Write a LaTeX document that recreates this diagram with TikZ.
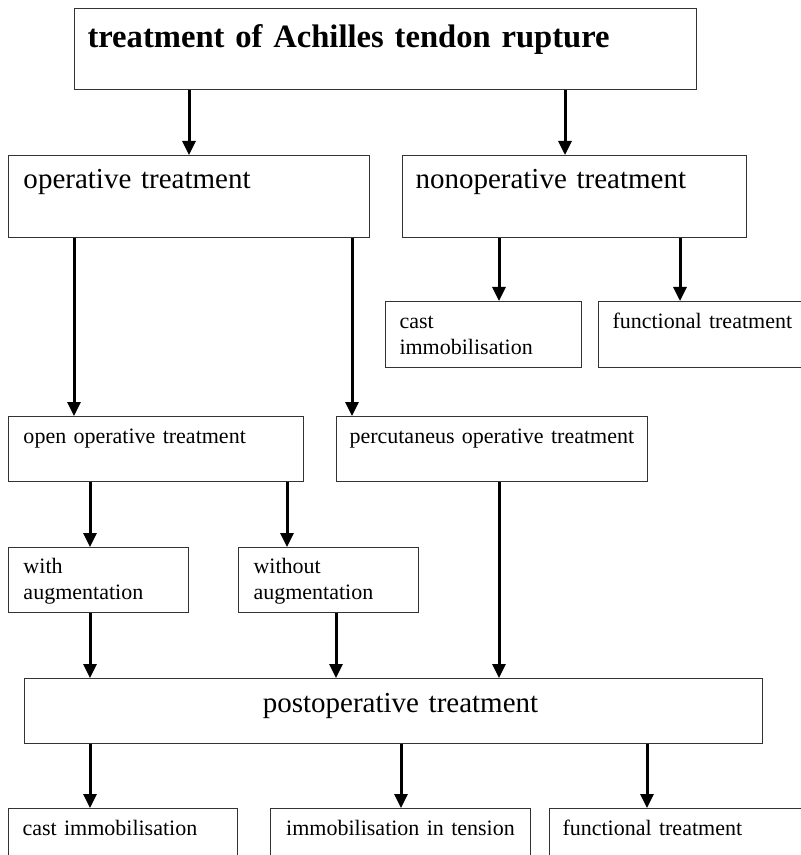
\documentclass[tikz,border=0pt]{standalone}
\usepackage{fontspec}
\setmainfont{Liberation Serif}
\usetikzlibrary{arrows.meta}

\begin{document}
\begin{tikzpicture}[x = 0.5pt, y = -0.5pt]
            \tikzstyle{box} = [draw=black!80, line width=0.5pt, anchor=north west, inner ysep=0pt, inner xsep=7pt, align=left, font=\fontsize{11}{13}\selectfont]
            \tikzstyle{mid} = [font=\fontsize{14.5}{17}\selectfont]
            \tikzstyle{link} = [-{Triangle[width=6.5pt, length=7pt]}, line width=1.5pt]
            \useasboundingbox (0,0) rectangle (801,855);
            \clip (0,0) rectangle (801,855);

            \node [box, inner xsep=6.5pt, text width=298pt, text height=19.5pt, text depth=21pt, font=\fontsize{16.3}{19}\selectfont\bfseries] (T0) at (74,8) {treatment of Achilles tendon rupture};

            \node [box, mid, inner xsep=7.5pt, text width=165.5pt, text height=16.5pt, text depth=24.5pt] (T1) at (8,155) {operative treatment};
            \node [box, mid, inner xsep=6.5pt, text width=159pt, text height=16.5pt, text depth=24.5pt] (T2) at (402,155) {nonoperative treatment};

            \node [box, text width=84pt, text height=13.5pt, text depth=19.5pt] (T3) at (385,301) {cast\\immobilisation};
            \node [box, text width=97pt, text height=13.5pt, text depth=19.5pt] (T4) at (598,301) {functional treatment};

            \node [box, inner xsep=7.5pt, text width=132.5pt, text height=13.5pt, text depth=19pt] (T5) at (8,416) {open operative treatment};
            \node [box, inner xsep=6.5pt, text width=142.5pt, text height=13.5pt, text depth=19pt] (T6) at (336,416) {percutaneus operative treatment};

            \node [box, inner xsep=7.5pt, text width=75pt, text height=13pt, text depth=19.5pt] (T7) at (8,547) {with\\augmentation};
            \node [box, inner xsep=7.5pt, text width=75pt, text height=13pt, text depth=19.5pt] (T8) at (238,547) {without\\augmentation};

            \node [box, mid, align=center, text width=355pt, text height=17pt, text depth=15.5pt] (T9) at (24,678) {\hspace*{7pt}postoperative treatment};

            \node [box, text width=100.5pt, text height=13.5pt, text depth=19.5pt] (T10) at (8,808) {cast immobilisation};
            \node [box, align=center, text width=116pt, text height=13.5pt, text depth=19.5pt] (T11) at (270,808) {immobilisation in tension};
            \node [box, inner xsep=6.5pt, text width=122.5pt, text height=13.5pt, text depth=19.5pt] (T12) at (549,808) {functional treatment};

            % first split
            \draw [link] (T0.south -| 189,0) -- (T1.north -| 189,0);
            \draw [link] (T0.south -| 565,0) -- (T2.north -| 565,0);
            \draw [link] (T2.south -| 499,0) -- (T3.north -| 499,0);
            \draw [link] (T2.south -| 680,0) -- (T4.north -| 680,0);

            % operative branch
            \draw [link] (T1.south -| 74,0) -- (T5.north -| 74,0);
            \draw [link] (T1.south -| 352,0) -- (T6.north -| 352,0);
            \draw [link] (T5.south -| 90,0) -- (T7.north -| 90,0);
            \draw [link] (T5.south -| 287,0) -- (T8.north -| 287,0);

            \draw [link] (T7.south -| 90,0) -- (T9.north -| 90,0);
            \draw [link] (T8.south -| 336,0) -- (T9.north -| 336,0);
            \draw [link] (T6.south -| 499,0) -- (T9.north -| 499,0);

            \draw [link] (T9.south -| 90,0) -- (T10.north -| 90,0);
            \draw [link] (T9.south -| 401,0) -- (T11.north -| 401,0);
            \draw [link] (T9.south -| 647,0) -- (T12.north -| 647,0);
        \end{tikzpicture}
\end{document}
